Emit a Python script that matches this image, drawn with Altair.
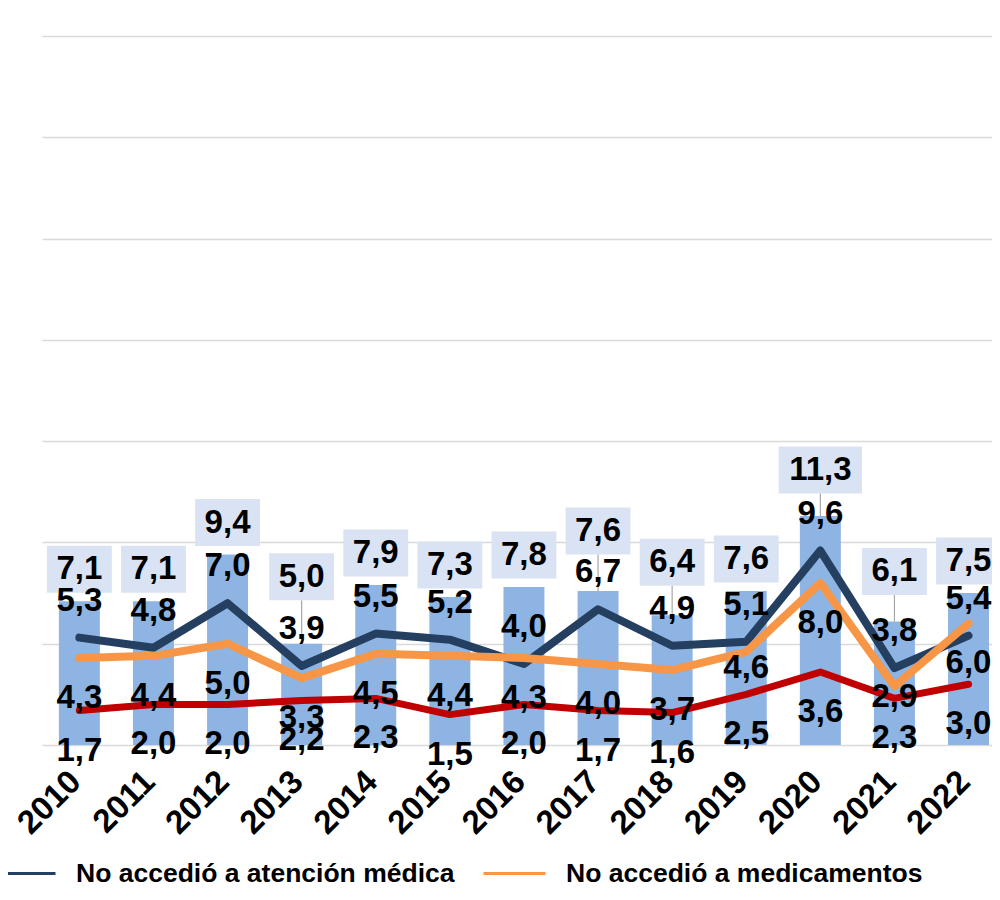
import altair as alt
import pandas as pd

# ---------------- data ----------------
years = ["2010", "2011", "2012", "2013", "2014", "2015", "2016",
         "2017", "2018", "2019", "2020", "2021", "2022"]
total = [7.1, 7.1, 9.4, 5.0, 7.9, 7.3, 7.8, 7.6, 6.4, 7.6, 11.3, 6.1, 7.5]
atencion = [5.3, 4.8, 7.0, 3.9, 5.5, 5.2, 4.0, 6.7, 4.9, 5.1, 9.6, 3.8, 5.4]
medicamentos = [4.3, 4.4, 5.0, 3.3, 4.5, 4.4, 4.3, 4.0, 3.7, 4.6, 8.0, 2.9, 6.0]
otra = [1.7, 2.0, 2.0, 2.2, 2.3, 1.5, 2.0, 1.7, 1.6, 2.5, 3.6, 2.3, 3.0]

S_AT = "No accedió a atención médica"
S_MED = "No accedió a medicamentos"
S_OTRA = "No accedió por otras razones"

# ---------------- layout / style ----------------
Y_MAX = 35
PLOT_W, PLOT_H = 950, 709
PX = PLOT_H / Y_MAX            # pixels per unit on the y scale
FONT = "Liberation Sans"
LABEL_SIZE = 33

C_BAR = "#8DB4E2"
C_BOX = "#DAE3F3"
C_AT = "#243F60"
C_MED = "#F79646"
C_OTRA = "#C00000"

# label placement (px): lift above bar tops, with labels dragged further in the source
BAR_LIFT = 32
BAR_LIFT_MANUAL = {"2013": 67, "2017": 60, "2018": 53, "2020": 46, "2021": 50}
AT_SHIFT = -37
MED_SHIFT = 40
MED_SHIFT_MANUAL = {"2019": 16, "2021": 11}
OTRA_SHIFT = 40
BOX_H = 47


def fmt(v):
    return f"{v:.1f}".replace(".", ",")


def text_w(s):
    return sum((0.278 if ch == "," else 0.556) * LABEL_SIZE for ch in s)


df = pd.DataFrame({"year": years, "total": total, "at": atencion,
                   "med": medicamentos, "otra": otra})
df["total_lbl"] = df["total"].map(fmt)
df["lift"] = [BAR_LIFT_MANUAL.get(y, BAR_LIFT) for y in years]
df["total_ly"] = df["total"] + df["lift"] / PX
df["box_lo"] = df["total_ly"] - (BOX_H / 2) / PX
df["box_hi"] = df["total_ly"] + (BOX_H / 2) / PX
df["box_w"] = df["total_lbl"].map(lambda s: text_w(s) + 19)
df["leader"] = [y in BAR_LIFT_MANUAL for y in years]

df["at_lbl"] = df["at"].map(fmt)
df["at_ly"] = df["at"] - AT_SHIFT / PX
df["med_lbl"] = df["med"].map(fmt)
df["med_ly"] = df["med"] - pd.Series([MED_SHIFT_MANUAL.get(y, MED_SHIFT) for y in years]) / PX
df["otra_lbl"] = df["otra"].map(fmt)
df["otra_ly"] = df["otra"] - OTRA_SHIFT / PX

long = pd.concat([
    pd.DataFrame({"year": years, "value": atencion, "series": S_AT}),
    pd.DataFrame({"year": years, "value": medicamentos, "series": S_MED}),
    pd.DataFrame({"year": years, "value": otra, "series": S_OTRA}),
])

x_enc = alt.X("year:N", sort=years,
              scale=alt.Scale(paddingInner=0.447, paddingOuter=0.134, align=0.85),
              axis=alt.Axis(title=None, labelAngle=-45, labelAlign="right",
                            labelBaseline="top", labelFont=FONT,
                            labelFontWeight="bold", labelFontSize=33,
                            labelColor="black", labelPadding=20, labelOffset=-15,
                            domain=False, ticks=False, grid=False))
y_scale = alt.Scale(domain=[0, Y_MAX], nice=False, zero=True)
y_axis = alt.Axis(title=None, labels=False, ticks=False, domain=False,
                  values=list(range(0, Y_MAX + 1, 5)), grid=True,
                  gridColor="#D9D9D9", gridWidth=1.5)

base = alt.Chart(df)

bars = base.mark_bar(color=C_BAR).encode(
    x=x_enc, y=alt.Y("total:Q", scale=y_scale, axis=y_axis))

leaders = base.transform_filter("datum.leader").mark_rule(
    color="#A6A6A6", strokeWidth=1.2).encode(
    x=alt.X("year:N", sort=years), y="total:Q", y2="box_lo:Q")

color_enc = alt.Color(
    "series:N",
    scale=alt.Scale(domain=[S_AT, S_MED, S_OTRA], range=[C_AT, C_MED, C_OTRA]),
    legend=alt.Legend(title=None, orient="none", legendX=-50, legendY=805,
                      direction="horizontal", symbolType="stroke",
                      symbolSize=3844, symbolStrokeWidth=3,
                      labelFont=FONT, labelFontSize=26.5, labelFontWeight="bold",
                      labelColor="black", labelOffset=19, columnPadding=22,
                      padding=0, labelLimit=0, values=[S_AT, S_MED]))


def line_layer(name, width):
    return alt.Chart(long).transform_filter(
        alt.datum.series == name).mark_line(
        strokeWidth=width, strokeCap="round", strokeJoin="round").encode(
        x=alt.X("year:N", sort=years), y="value:Q", color=color_enc)


l_at = line_layer(S_AT, 8)
l_med = line_layer(S_MED, 8)
l_otra = line_layer(S_OTRA, 7)

boxes = base.mark_bar(color=C_BOX).encode(
    x=alt.X("year:N", sort=years), y="box_lo:Q", y2="box_hi:Q",
    size=alt.Size("box_w:Q", scale=None, legend=None))


def labels(ycol, tcol):
    return base.mark_text(font=FONT, fontSize=LABEL_SIZE, fontWeight="bold",
                          color="black", baseline="middle", align="center").encode(
        x=alt.X("year:N", sort=years), y=f"{ycol}:Q", text=f"{tcol}:N")


chart = alt.layer(
    bars, leaders, l_at, l_med, l_otra, boxes,
    labels("total_ly", "total_lbl"), labels("at_ly", "at_lbl"),
    labels("med_ly", "med_lbl"), labels("otra_ly", "otra_lbl"),
).properties(
    width=PLOT_W, height=PLOT_H, background="white",
    padding={"left": 34, "top": 28, "right": 0, "bottom": 145},
    autosize=alt.AutoSizeParams(type="none"),
).configure_view(strokeWidth=0).configure_axis(
    domain=False, ticks=False
)

chart.save("out.html", embed_options={"renderer": "svg", "actions": False})
